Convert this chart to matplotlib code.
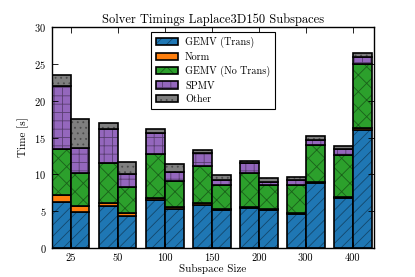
import matplotlib
matplotlib.use("Agg")
import matplotlib.pyplot as plt
import matplotlib.colors as mcolors
from matplotlib.patches import Patch
from matplotlib.legend_handler import HandlerTuple
import numpy as np

plt.rcParams['font.family'] = ['cmr10', 'DejaVu Serif']
plt.rcParams['axes.formatter.use_mathtext'] = True
plt.rcParams['hatch.linewidth'] = 0.6
plt.rcParams['xtick.direction'] = 'in'
plt.rcParams['ytick.direction'] = 'in'
plt.rcParams['xtick.top'] = True
plt.rcParams['ytick.right'] = True

sizes = ['25', '50', '100', '150', '200', '300', '400']
components = ['GEMV (Trans)', 'Norm', 'GEMV (No Trans)', 'SPMV', 'Other']

# left bar of each pair
gemv_t_a = [6.19, 5.65, 6.50, 5.87, 5.42, 4.65, 6.82]
norm_a = [0.95, 0.50, 0.32, 0.28, 0.14, 0.14, 0.14]
gemv_n_a = [6.33, 5.42, 5.97, 4.95, 4.56, 3.71, 5.64]
spmv_a = [8.58, 4.61, 2.84, 1.73, 1.36, 0.76, 0.78]
other_a = [1.49, 0.77, 0.59, 0.45, 0.31, 0.36, 0.45]

# right bar of each pair
gemv_t_b = [4.88, 4.34, 5.24, 5.10, 5.10, 8.86, 16.09]
norm_b = [0.81, 0.45, 0.32, 0.14, 0.14, 0.14, 0.21]
gemv_n_b = [4.51, 3.52, 3.57, 3.26, 3.26, 5.00, 8.70]
spmv_b = [3.36, 1.77, 1.22, 0.76, 0.45, 0.64, 0.90]
other_b = [3.97, 1.62, 1.04, 0.68, 0.54, 0.54, 0.60]

colors = ['#1f77b4', '#ff7f0e', '#2ca02c', '#9467bd', '#7f7f7f']
hatches = ['///', '', 'xx', '++', '...']


def darker(c, f=0.6):
    r, g, b = mcolors.to_rgb(c)
    return (r * f, g * f, b * f)


fig = plt.figure(figsize=(4.15, 2.77), dpi=100)
ax = fig.add_axes([0.125, 0.105, 0.776, 0.797])

x = np.arange(len(sizes))
w = 0.4
sets = [
    (x - w / 2, [gemv_t_a, norm_a, gemv_n_a, spmv_a, other_a]),
    (x + w / 2, [gemv_t_b, norm_b, gemv_n_b, spmv_b, other_b]),
]
for k, (pos, series) in enumerate(sets):
    bottom = np.zeros(len(sizes))
    for i, vals in enumerate(series):
        ax.bar(pos, vals, w, bottom=bottom, color=colors[i],
               edgecolor=darker(colors[i]), linewidth=0, hatch=hatches[i])
        ax.bar(pos, vals, w, bottom=bottom, fill=False, edgecolor='black',
               linewidth=1.2)
        bottom += np.array(vals)

ax.set_xlim(-0.4, 6.45)
ax.set_ylim(0, 30)
ax.set_xticks(x)
ax.set_xticklabels(sizes)
ax.set_yticks(np.arange(0, 31, 5))
ax.tick_params(labelsize=7.5, length=4, width=0.6, pad=4)
for s in ax.spines.values():
    s.set_linewidth(1.0)
ax.set_title('Solver Timings Laplace3D150 Subspaces', fontsize=9, pad=3)
ax.set_xlabel('Subspace Size', fontsize=8, labelpad=1)
ax.set_ylabel('Time [s]', fontsize=8, labelpad=4)

handles = []
for i in range(len(components)):
    h1 = Patch(facecolor=colors[i], edgecolor=darker(colors[i]), linewidth=0,
               hatch=hatches[i])
    h2 = Patch(fill=False, edgecolor='black', linewidth=1.2)
    handles.append((h1, h2))
leg = ax.legend(handles, components, loc='upper center', fontsize=7.3,
                fancybox=False, framealpha=1, edgecolor='black',
                handlelength=2.2, borderpad=0.45, labelspacing=0.4,
                handletextpad=0.7,
                handler_map={tuple: HandlerTuple(ndivide=1, pad=0)})
leg.get_frame().set_linewidth(0.8)

fig.savefig('out.png', dpi=100)
